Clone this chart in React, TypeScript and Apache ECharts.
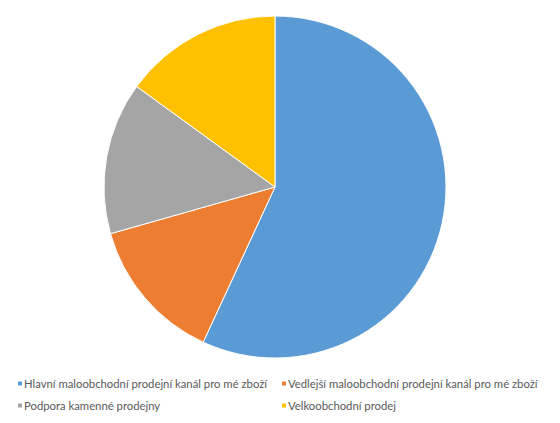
import React, { useEffect, useRef } from "react";
import * as echarts from "echarts";

const categories = [
  "Hlavní maloobchodní prodejní kanál pro mé zboží",
  "Vedlejší maloobchodní prodejní kanál pro mé zboží",
  "Podpora kamenné prodejny",
  "Velkoobchodní prodej",
];
const values = [56.9, 13.7, 14.4, 15.0];
const colors = ["#5B9BD5", "#ED7D31", "#A5A5A5", "#FFC000"];

export default function App() {
  const ref = useRef<HTMLDivElement>(null);
  useEffect(() => {
    if (!ref.current) return;
    const chart = echarts.init(ref.current, undefined, { renderer: "svg" });
    const legendBase = {
      orient: "vertical" as const,
      itemWidth: 6,
      itemHeight: 6,
      itemGap: 11,
      icon: "rect",
      textStyle: { color: "#595959", fontSize: 11.3, fontFamily: "Lato", padding: [0, 0, 0, -4] },
      padding: 0,
    };
    chart.setOption({
      animation: false,
      color: colors,
      legend: [
        { ...legendBase, left: 8, top: 370, data: [categories[0], categories[2]] },
        { ...legendBase, left: 272, top: 370, data: [categories[1], categories[3]] },
      ],
      series: [
        {
          type: "pie",
          center: [267, 179],
          radius: 171,
          startAngle: 90,
          clockwise: true,
          label: { show: false },
          labelLine: { show: false },
          itemStyle: { borderColor: "#fff", borderWidth: 1 },
          data: categories.map((name, i) => ({ name, value: values[i] })),
        },
      ],
    });
    return () => chart.dispose();
  }, []);
  return <div ref={ref} style={{ width: 544, height: 407 }} />;
}
